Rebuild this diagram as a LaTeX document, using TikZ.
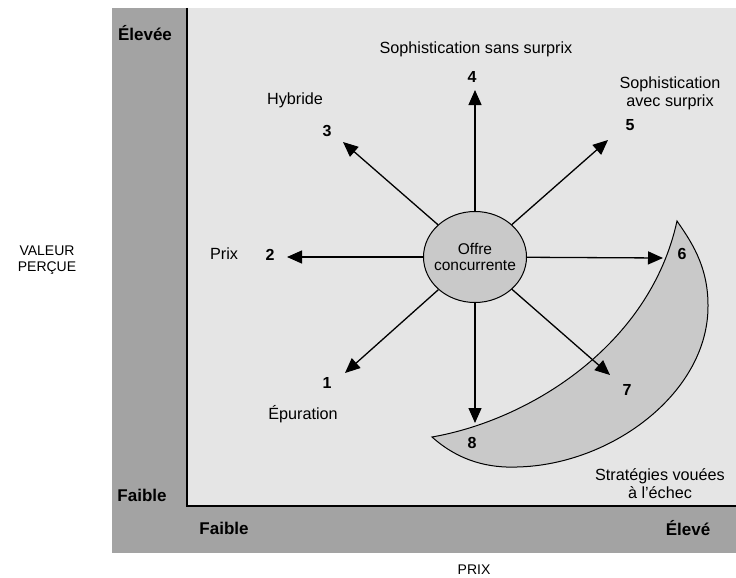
\documentclass[tikz,border=0pt]{standalone}
\usepackage{fontspec}
\setmainfont{Liberation Sans}
\usetikzlibrary{arrows.meta,shapes.geometric}
\definecolor{bandgray}{gray}{0.64}
\definecolor{panelgray}{gray}{0.90}
\definecolor{shapegray}{gray}{0.79}

\begin{document}
\begin{tikzpicture}[x=1pt, y=-1pt,
  lbl/.style={font=\fontsize{16.2}{18}\selectfont, align=center},
  num/.style={font=\fontsize{16}{18}\selectfont\bfseries},
  axis/.style={font=\fontsize{17}{19}\selectfont\bfseries},
  vec/.style={line width=1.3pt, -{Triangle[length=15pt,width=13pt]}}]
  \useasboundingbox (0,0) rectangle (736,578);
  \fill[bandgray] (112,8) rectangle (736,553);
  \fill[panelgray] (187,8) rectangle (736,506);
  \draw[line width=1.3pt] (187,8) -- (187,506) -- (736,506);
  \filldraw[fill=shapegray, line width=1pt] (432,437)
    .. controls (460,462) and (490,468) .. (517,467)
    .. controls (612,465) and (709,392) .. (708,305)
    .. controls (708,265) and (690,240) .. (677,221)
    .. controls (650,345) and (530,420) .. cycle;
  \node[ellipse, draw, line width=1pt, fill=shapegray, minimum width=103, minimum height=91,
    inner xsep=-10pt, inner ysep=0pt,
    align=center, font=\fontsize{15.5}{16}\selectfont] (offre) at (475,257) {Offre\\concurrente};
  \coordinate (t1) at (345,373);
  \coordinate (t2) at (287,257);
  \coordinate (t3) at (343,142);
  \coordinate (t4) at (475,90);
  \coordinate (t5) at (608,140);
  \coordinate (t6) at (663,258);
  \coordinate (t7) at (610,375);
  \coordinate (t8) at (475,423);
  \foreach \i in {1,...,8}
    \draw[vec] (offre) -- (t\i);
  \node[num] (n1) at (327,383) {1};
  \node[num] (n2) at (270,255) {2};
  \node[num] (n3) at (327,131) {3};
  \node[num] (n4) at (472,77) {4};
  \node[num] (n5) at (630,125) {5};
  \node[num] (n6) at (682,254) {6};
  \node[num] (n7) at (627,390) {7};
  \node[num] (n8) at (472,443) {8};
  \node[lbl] (epuration) at (303,414) {Épuration};
  \node[lbl] (prix) at (224,254) {Prix};
  \node[lbl] (hybride) at (295,100) {Hybride};
  \node[lbl] (sanssurprix) at (476,49) {Sophistication sans surprix};
  \node[lbl] (avecsurprix) at (670,93) {Sophistication\\avec surprix};
  \node[lbl] (echec) at (660,484) {Stratégies vouées\\à l'échec};
  \node[axis] (vhaut) at (145,33) {Élevée};
  \node[axis] (vbas) at (142,495) {Faible};
  \node[axis] (pbas) at (224,528) {Faible};
  \node[axis] (phaut) at (688,528) {Élevé};
  \node[lbl, font=\fontsize{14}{15.5}\selectfont] (valeur) at (47,260) {VALEUR\\PERÇUE};
  \node[lbl, font=\fontsize{14}{15.5}\selectfont] (prixaxe) at (474,570) {PRIX};
\end{tikzpicture}
\end{document}
